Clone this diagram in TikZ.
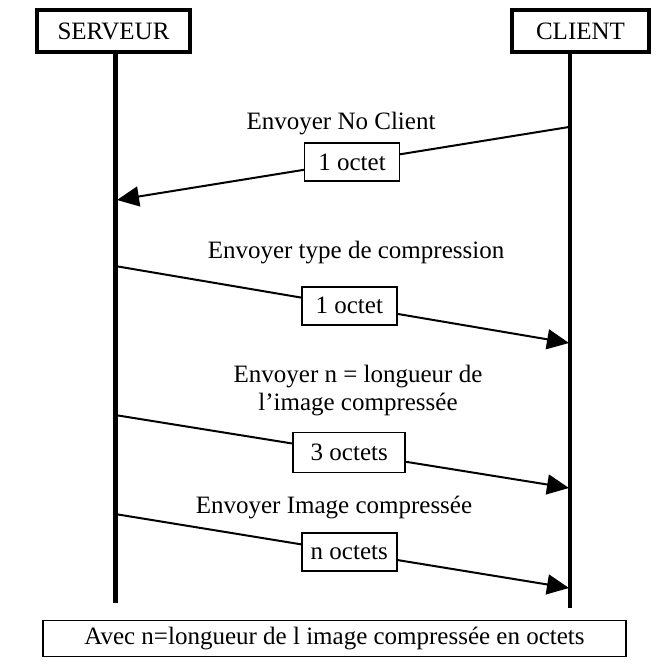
\documentclass[tikz,border=0pt]{standalone}
\usepackage{fontspec}
\setmainfont{Liberation Serif}
\usepackage{tikz}
\usetikzlibrary{arrows.meta, positioning}
\tikzset{
	actorbox/.style={draw, line width=2pt, minimum height=21pt, font=\fontsize{12.5}{15}\selectfont},
	lifeline/.style={line width=#1},
	msgarr/.style={line width=1pt, -{Triangle[length=11pt, width=10pt]}},
	sizebox/.style={draw, fill=white, line width=0.8pt, minimum width=47.5pt, minimum height=19pt, font=\fontsize{12.5}{15}\selectfont},
	msglabel/.style={font=\fontsize{12.5}{14}\selectfont, align=center, inner sep=1pt},
}

\begin{document}
\begin{tikzpicture}[x=0.5pt, y=-0.5pt]
	\useasboundingbox (0,0) rectangle (655,669);
	% acteurs
	\node[actorbox, minimum width=76.5pt] (srv) at (113.5,31) {SERVEUR};
	\node[actorbox, minimum width=68.5pt] (clt) at (580.5,31) {CLIENT};
	\coordinate (srvtop) at (115,52);
	\coordinate (srvbot) at (115,603);
	\coordinate (clttop) at (570,52);
	\coordinate (cltbot) at (570,608);
	\draw[lifeline=2.5pt] (srvtop) -- (srvbot);
	\draw[lifeline=1.6pt] (clttop) -- (cltbot);
	% messages
	\coordinate (c1) at (569,127);
	\coordinate (s1) at (117,200);
	\coordinate (s2) at (115,266);
	\coordinate (c2) at (569,343);
	\coordinate (s3) at (115,415);
	\coordinate (c3) at (569,488);
	\coordinate (s4) at (115,514);
	\coordinate (c4) at (569,588);
	\node[msglabel] (l1) at (341,124) {Envoyer No Client};
	\node[msglabel] (l2) at (356,253) {Envoyer type de compression};
	\node[msglabel] (l3) at (358,391) {Envoyer n = longueur de\\l’image compressée};
	\node[msglabel] (l4) at (334,507) {Envoyer Image compressée};
	\draw[msgarr] (c1) -- node[sizebox, pos=0.48] (o1) {1 octet} (s1);
	\draw[msgarr] (s2) -- node[sizebox, pos=0.516] (o2) {1 octet} (c2);
	\draw[msgarr] (s3) -- node[sizebox, pos=0.516, minimum width=56pt, minimum height=20pt] (o3) {3 octets} (c3);
	\draw[msgarr] (s4) -- node[sizebox, pos=0.516] (o4) {n octets} (c4);
	% note
	\node[draw, line width=0.8pt, minimum width=291.5pt, minimum height=16.5pt, font=\fontsize{12.5}{15}\selectfont] (note) at (334.5,638.5) {Avec n=longueur de l image compressée en octets};
\end{tikzpicture}
\end{document}
